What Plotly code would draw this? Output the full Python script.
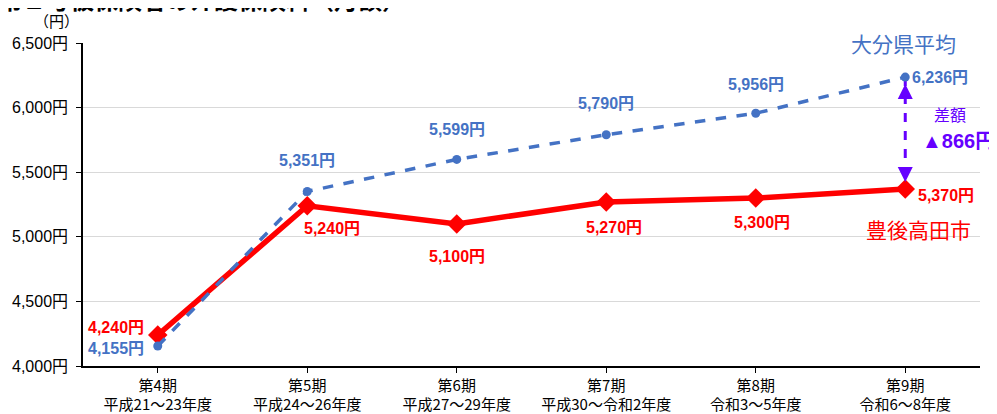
import plotly.graph_objects as go

categories = ["第4期<br>平成21～23年度", "第5期<br>平成24～26年度", "第6期<br>平成27～29年度",
              "第7期<br>平成30～令和2年度", "第8期<br>令和3～5年度", "第9期<br>令和6～8年度"]
oita_avg = [4155, 5351, 5599, 5790, 5956, 6236]
takada = [4240, 5240, 5100, 5270, 5300, 5370]
y_ticks = [4000, 4500, 5000, 5500, 6000, 6500]
y_tick_labels = ["4,000円", "4,500円", "5,000円", "5,500円", "6,000円", "6,500円"]

BLUE = "#4472C4"
RED = "#FF0000"
PURPLE = "#6600FF"
JP = "Noto Sans CJK JP"
NUM = "Liberation Sans, Noto Sans CJK JP"

x = list(range(len(categories)))

fig = go.Figure()

# difference arrow shaft (dashed)
fig.add_trace(go.Scatter(x=[x[-1], x[-1]], y=[oita_avg[-1], takada[-1]], mode="lines",
                         line=dict(color=PURPLE, width=3, dash="dash"), hoverinfo="skip",
                         showlegend=False))

fig.add_trace(go.Scatter(x=x, y=takada, mode="lines+markers", name="豊後高田市",
                         line=dict(color=RED, width=5.5),
                         marker=dict(symbol="diamond", size=15, color=RED),
                         showlegend=False))
fig.add_trace(go.Scatter(x=x, y=oita_avg, mode="lines+markers", name="大分県平均",
                         line=dict(color=BLUE, width=3.5, dash="dash"),
                         marker=dict(symbol="circle", size=9, color=BLUE),
                         showlegend=False))

ann = []
# blue labels
blue_off = [(-42, -3), (0, 31), (0, 30), (0, 31), (0, 29), (35, 0)]
for i, v in enumerate(oita_avg):
    dx, dy = blue_off[i]
    ann.append(dict(x=x[i], y=v, text=f"{v:,}円", showarrow=False, xshift=dx, yshift=dy,
                    font=dict(family=NUM, size=16, color=BLUE, weight="bold")))
red_off = [(-42, 7), (25, -23), (0, -33), (8, -26), (6, -24), (41, -6)]
for i, v in enumerate(takada):
    dx, dy = red_off[i]
    ann.append(dict(x=x[i], y=v, text=f"{v:,}円", showarrow=False, xshift=dx, yshift=dy,
                    font=dict(family=NUM, size=16, color=RED, weight="bold")))

# arrowheads
ann.append(dict(x=x[-1], y=oita_avg[-1], ax=0, ay=20, showarrow=True, arrowhead=2,
                arrowsize=1.2, arrowwidth=2.5, arrowcolor=PURPLE, standoff=7, text=""))
ann.append(dict(x=x[-1], y=takada[-1], ax=0, ay=-20, showarrow=True, arrowhead=2,
                arrowsize=1.2, arrowwidth=2.5, arrowcolor=PURPLE, standoff=7, text=""))

ann += [
    dict(x=x[-1], y=6500, text="大分県平均", showarrow=False, xshift=-2,
         font=dict(family=JP, size=21, color=BLUE)),
    dict(x=x[-1], y=5060, text="豊後高田市", showarrow=False, xshift=13,
         font=dict(family=JP, size=21, color=RED)),
    dict(x=x[-1], y=5950, text="差額", showarrow=False, xshift=45,
         font=dict(family=JP, size=16, color=PURPLE)),
    dict(x=x[-1], y=5740, text="▲866円", showarrow=False, xshift=53,
         font=dict(family=NUM, size=20, color=PURPLE, weight="bold")),
    dict(xref="paper", yref="paper", x=-0.03, y=1.03, text="（円）", showarrow=False,
         xanchor="center", yanchor="bottom", font=dict(family=JP, size=15, color="#000")),
    dict(xref="paper", yref="paper", x=-0.097, y=1.078, text="第１号被保険者の介護保険料（月額）",
         showarrow=False, xanchor="left", yanchor="bottom",
         font=dict(family=JP, size=24, color="#000", weight="bold")),
]

fig.update_layout(
    width=997, height=414,
    margin=dict(l=75, r=25, t=35, b=56, autoexpand=False),
    paper_bgcolor="white", plot_bgcolor="white",
    annotations=ann,
    xaxis=dict(tickmode="array", tickvals=x, ticktext=categories, range=[-0.5, 5.5],
               showline=True, linecolor="#000", linewidth=1.5, ticks="outside",
               tickson="boundaries", ticklen=5, tickcolor="#000", showgrid=False,
               automargin=False,
               tickfont=dict(family=JP, size=15, color="#000"), zeroline=False),
    yaxis=dict(tickmode="array", tickvals=y_ticks, ticktext=y_tick_labels, range=[4000, 6500],
               showline=True, linecolor="#000", linewidth=1.5, ticks="outside", ticklen=5,
               tickcolor="#000", gridcolor="#D9D9D9", gridwidth=1, zeroline=False,
               automargin=False, ticklabelstandoff=5,
               tickfont=dict(family=NUM, size=16, color="#000")),
)

fig.write_html("out.html")
